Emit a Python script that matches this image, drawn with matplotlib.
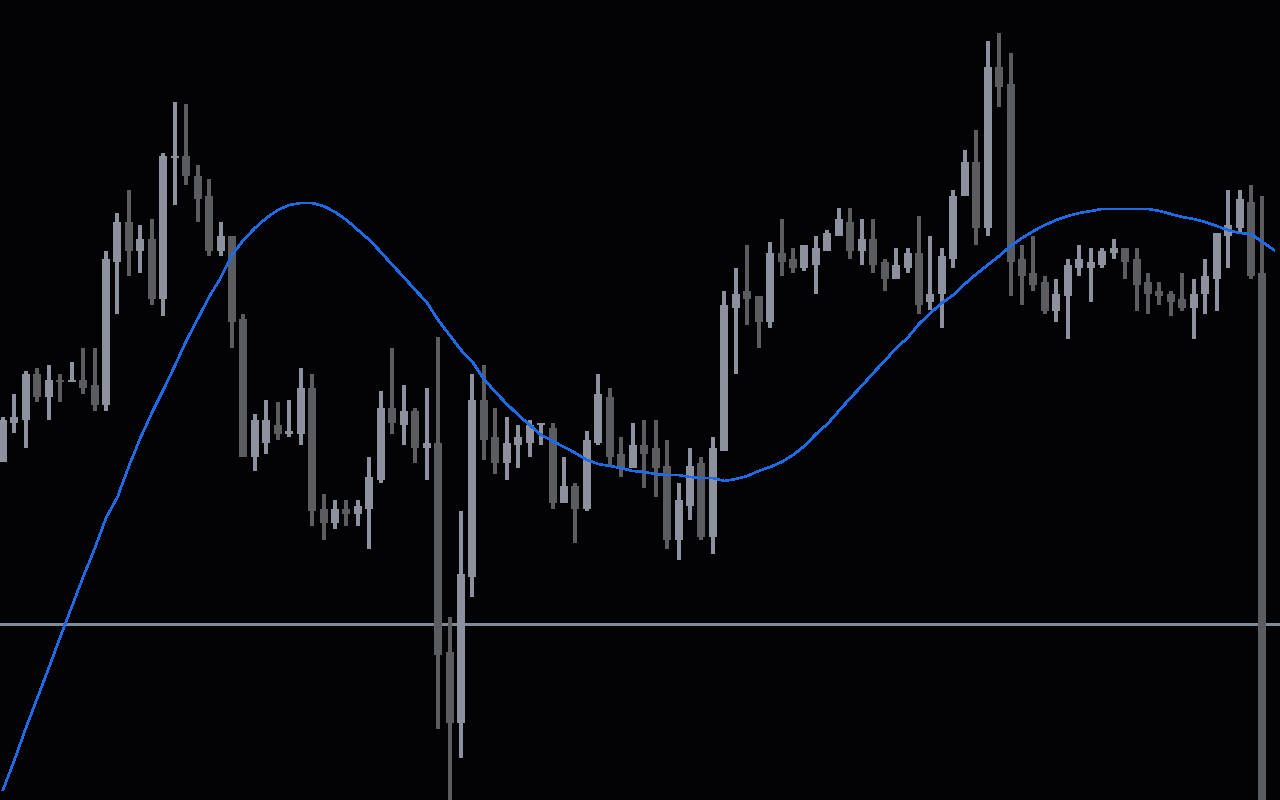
import numpy as np
import matplotlib
matplotlib.use("Agg")
import matplotlib.pyplot as plt

# candle prices (arbitrary price units), one entry per bar
opens = [338, 377, 380, 426, 403, 420, 418, 420, 415, 395,
         538, 578, 549, 561, 501, 642, 644, 624, 604, 549,
         564, 481, 343, 357, 375, 366, 366, 412, 291, 277,
         291, 286, 291, 320, 392, 375, 389, 352, 357, 148,
         77, 223, 400, 363, 337, 355, 357, 375, 372, 297,
         314, 291, 357, 403, 346, 332, 355, 352, 334, 260,
         294, 337, 263, 349, 492, 509, 504, 478, 547, 541,
         532, 535, 549, 564, 578, 549, 561, 538, 521, 532,
         547, 498, 506, 541, 604, 638, 572, 733, 716, 541,
         527, 518, 489, 504, 532, 532, 535, 547, 552, 541,
         518, 509, 506, 501, 492, 506, 521, 564, 572, 598,
         527]
highs = [383, 406, 429, 432, 435, 426, 438, 452, 452, 549,
         587, 610, 575, 581, 647, 698, 696, 635, 621, 578,
         564, 486, 386, 400, 398, 400, 432, 426, 306, 300,
         300, 300, 343, 409, 452, 415, 392, 412, 463, 183,
         289, 426, 435, 392, 383, 375, 380, 377, 377, 343,
         317, 369, 426, 412, 363, 377, 380, 380, 360, 317,
         352, 343, 363, 509, 532, 555, 504, 558, 581, 552,
         555, 564, 570, 592, 592, 581, 581, 541, 552, 552,
         584, 564, 552, 610, 650, 670, 759, 767, 747, 555,
         564, 524, 521, 541, 555, 552, 552, 561, 552, 552,
         527, 518, 509, 527, 521, 541, 567, 610, 610, 615,
         604]
lows = [338, 367, 352, 398, 380, 398, 418, 406, 389, 389,
        486, 524, 527, 495, 484, 595, 615, 578, 544, 544,
        452, 343, 329, 346, 360, 363, 355, 274, 260, 271,
        274, 274, 251, 317, 366, 355, 337, 320, 71, -5,
        42, 203, 340, 326, 320, 332, 343, 355, 291, 297,
        257, 289, 355, 333, 323, 332, 312, 303, 251, 240,
        280, 260, 246, 349, 426, 475, 452, 472, 524, 527,
        529, 506, 549, 564, 541, 535, 527, 509, 521, 527,
        486, 490, 472, 532, 604, 555, 564, 693, 504, 495,
        509, 486, 478, 461, 524, 498, 532, 541, 521, 489,
        486, 495, 484, 489, 461, 486, 489, 532, 566, 521,
        -5]
closes = [380, 383, 426, 403, 420, 418, 420, 412, 395, 541,
          578, 549, 561, 501, 644, 644, 624, 601, 549, 564,
          478, 343, 380, 380, 366, 369, 412, 289, 277, 291,
          286, 294, 323, 392, 377, 389, 352, 357, 145, 77,
          226, 400, 360, 337, 357, 363, 375, 377, 297, 314,
          291, 360, 406, 343, 332, 355, 346, 332, 260, 300,
          334, 263, 352, 495, 506, 501, 478, 547, 538, 532,
          555, 552, 567, 581, 549, 561, 535, 521, 535, 547,
          495, 506, 544, 604, 638, 572, 733, 713, 538, 524,
          515, 489, 506, 535, 541, 538, 549, 552, 538, 515,
          506, 504, 498, 492, 506, 524, 567, 575, 601, 524,
          -5]

# smoothed average line, one point per bar plus one beyond the last bar
avg_line = [10, 40, 72, 102, 132, 163, 193, 223, 251, 282,
            303, 334, 362, 387, 410, 434, 459, 481, 503, 522,
            545, 560, 572, 582, 590, 595, 597, 597, 594, 588,
            580, 570, 560, 548, 535, 523, 510, 498, 480, 465,
            450, 438, 421, 408, 396, 385, 375, 365, 359, 353,
            347, 340, 336, 334, 332, 329, 328, 326, 325, 325,
            323, 322, 322, 319, 321, 324, 329, 333, 338, 345,
            354, 366, 376, 389, 402, 414, 427, 439, 452, 462,
            476, 487, 497, 505, 516, 526, 535, 544, 554, 562,
            569, 575, 580, 584, 587, 589, 591, 591, 591, 591,
            591, 589, 586, 583, 581, 578, 574, 570, 567, 566,
            558, 550]

level = 176

bg = "#030305"
up_col = "#8d919d"
down_col = "#5b5c60"

fig = plt.figure(figsize=(12.8, 8), dpi=100, facecolor=bg)
ax = fig.add_axes([0, 0, 1, 1])
ax.set_facecolor(bg)

o = np.array(opens)
h = np.array(highs)
l = np.array(lows)
c = np.array(closes)
x = np.arange(len(o))
cols = [up_col if cc >= oo else down_col for oo, cc in zip(o, c)]

ax.axhline(level, color="#7f8c97", lw=1.8, zorder=1, antialiased=False)
ax.vlines(x, l, h, colors=cols, lw=1.5, zorder=2, antialiased=False)
body = np.maximum(np.abs(c - o), 2)
ax.bar(x, body, bottom=np.minimum(o, c), width=0.7, color=cols, zorder=3,
       linewidth=0, antialiased=False)
ax.plot(np.arange(len(avg_line)), avg_line, color="#1f6ae6", lw=1.1,
        zorder=4, antialiased=False)

ax.set_xlim(-0.26, 111.53)
ax.set_ylim(0, 800)
ax.axis("off")

fig.savefig("out.png", dpi=100, facecolor=bg)
